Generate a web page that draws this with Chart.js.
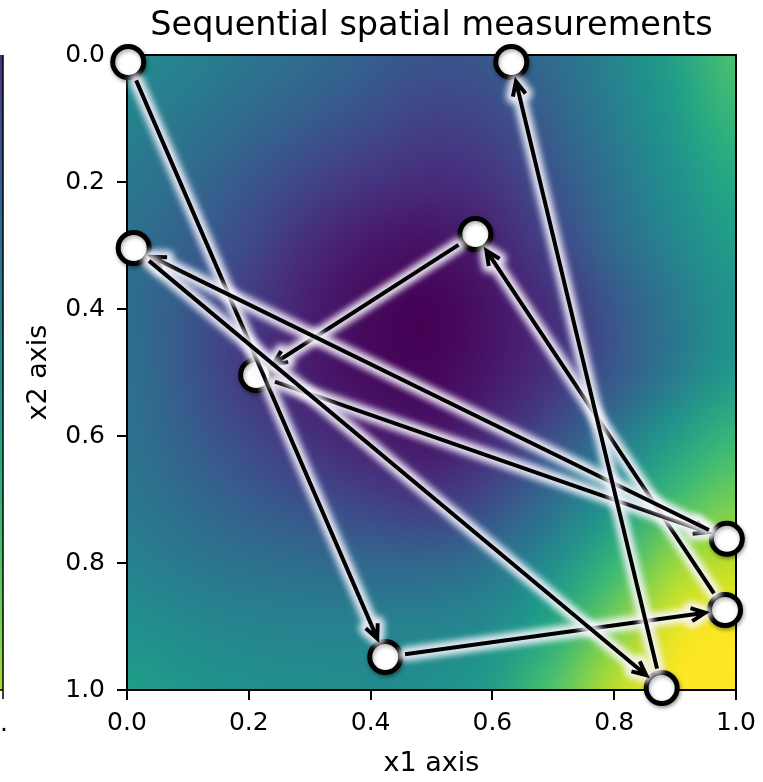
<!DOCTYPE html>
<html><head><meta charset="utf-8">
<script src="https://cdn.jsdelivr.net/npm/chart.js@4.4.1/dist/chart.umd.min.js"></script>
<style>html,body{margin:0;padding:0;background:#fff}canvas{display:block}</style>
</head><body>
<canvas id="c" width="763" height="782"></canvas>
<script>
// ---------- data ----------
const titleText = 'Sequential spatial measurements';
const xLabel = 'x1 axis';
const yLabel = 'x2 axis';
const xTickValues = [0, 0.2, 0.4, 0.6, 0.8, 1.0];
const xTickLabels = ['0.0', '0.2', '0.4', '0.6', '0.8', '1.0'];
const yTickValues = [0, 0.2, 0.4, 0.6, 0.8, 1.0];
const yTickLabels = ['0.0', '0.2', '0.4', '0.6', '0.8', '1.0'];

// heat-map grid (rows: x2, columns: x1), colour value 0..1
const x1Grid = [0, 0.1, 0.2, 0.3, 0.4, 0.5, 0.6, 0.7, 0.8, 0.9, 1.0];
const x2Grid = [0, 0.1, 0.2, 0.3, 0.4, 0.5, 0.6, 0.7, 0.8, 0.9, 1.0];
const fieldValues = [
  [0.48, 0.44, 0.39, 0.35, 0.30, 0.26, 0.28, 0.36, 0.45, 0.57, 0.72],
  [0.44, 0.39, 0.34, 0.29, 0.24, 0.19, 0.21, 0.31, 0.42, 0.54, 0.67],
  [0.40, 0.34, 0.27, 0.20, 0.15, 0.12, 0.15, 0.26, 0.38, 0.50, 0.61],
  [0.37, 0.30, 0.22, 0.12, 0.06, 0.04, 0.09, 0.20, 0.34, 0.46, 0.56],
  [0.36, 0.27, 0.17, 0.08, 0.02, 0.00, 0.05, 0.13, 0.27, 0.40, 0.52],
  [0.37, 0.27, 0.16, 0.07, 0.02, 0.01, 0.06, 0.14, 0.27, 0.41, 0.54],
  [0.38, 0.30, 0.22, 0.14, 0.08, 0.05, 0.12, 0.24, 0.39, 0.55, 0.67],
  [0.40, 0.34, 0.29, 0.24, 0.19, 0.16, 0.23, 0.36, 0.51, 0.69, 0.79],
  [0.44, 0.40, 0.37, 0.35, 0.33, 0.33, 0.38, 0.49, 0.66, 0.85, 0.91],
  [0.50, 0.47, 0.45, 0.44, 0.44, 0.45, 0.48, 0.60, 0.80, 0.97, 1.00],
  [0.56, 0.53, 0.50, 0.49, 0.48, 0.50, 0.56, 0.73, 0.90, 1.00, 1.00]
];

// measurement sequence (in visiting order)
const seqX1 = [0.002, 0.424, 0.982, 0.572, 0.212, 0.985, 0.011, 0.878, 0.631];
const seqX2 = [0.011, 0.948, 0.874, 0.282, 0.504, 0.762, 0.304, 0.997, 0.011];

// ---------- styling helpers ----------
const FONT = 'DejaVu Sans';
const VIRIDIS = ['#440154','#481a6c','#472f7d','#414487','#39568c','#31688e','#2a788e','#23888e',
                 '#1f988b','#22a884','#35b779','#54c568','#7ad151','#a5db36','#d2e21b','#fde725'];
const VIR_RGB = VIRIDIS.map(h => [parseInt(h.slice(1,3),16), parseInt(h.slice(3,5),16), parseInt(h.slice(5,7),16)]);
function viridis(t) {
  t = Math.max(0, Math.min(1, t));
  const f = t * (VIR_RGB.length - 1);
  const i = Math.min(Math.floor(f), VIR_RGB.length - 2);
  const r = f - i;
  const a = VIR_RGB[i], b = VIR_RGB[i + 1];
  return [0,1,2].map(k => Math.round(a[k] + (b[k] - a[k]) * r));
}

const heatmapPlugin = {
  id: 'heatmap',
  beforeDatasetsDraw(chart) {
    const {ctx, chartArea, scales} = chart;
    const xs = scales.x, ys = scales.y;
    const nx = x1Grid.length, ny = x2Grid.length;
    const off = document.createElement('canvas');
    off.width = nx; off.height = ny;
    const octx = off.getContext('2d');
    const img = octx.createImageData(nx, ny);
    for (let j = 0; j < ny; j++) {
      for (let i = 0; i < nx; i++) {
        const c = viridis(fieldValues[j][i]);
        const p = (j * nx + i) * 4;
        img.data[p] = c[0]; img.data[p+1] = c[1]; img.data[p+2] = c[2]; img.data[p+3] = 255;
      }
    }
    octx.putImageData(img, 0, 0);
    const hx = (x1Grid[1] - x1Grid[0]) / 2, hy = (x2Grid[1] - x2Grid[0]) / 2;
    const left = xs.getPixelForValue(x1Grid[0] - hx);
    const right = xs.getPixelForValue(x1Grid[nx - 1] + hx);
    const top = ys.getPixelForValue(x2Grid[0] - hy);
    const bottom = ys.getPixelForValue(x2Grid[ny - 1] + hy);
    ctx.save();
    ctx.beginPath();
    ctx.rect(chartArea.left, chartArea.top, chartArea.width, chartArea.height);
    ctx.clip();
    ctx.imageSmoothingEnabled = true;
    ctx.imageSmoothingQuality = 'high';
    ctx.drawImage(off, left, Math.min(top, bottom), right - left, Math.abs(bottom - top));
    ctx.restore();
    // axes frame
    ctx.save();
    ctx.strokeStyle = '#000';
    ctx.lineWidth = 2;
    ctx.strokeRect(chartArea.left, chartArea.top, chartArea.width, chartArea.height);
    ctx.restore();
  },
  beforeDatasetDraw(chart) {
    const ctx = chart.ctx;
    ctx.shadowColor = 'rgba(0,0,0,0.35)';
    ctx.shadowBlur = 4;
    ctx.shadowOffsetX = 1;
    ctx.shadowOffsetY = 2;
  },
  afterDatasetDraw(chart) {
    const ctx = chart.ctx;
    ctx.shadowColor = 'rgba(0,0,0,0)';
    ctx.shadowBlur = 0;
    ctx.shadowOffsetX = 0;
    ctx.shadowOffsetY = 0;
  }
};

function arrowPath(ctx, ax, ay, bx, by, shrinkA, shrinkB, headLen, headHalf) {
  const dx = bx - ax, dy = by - ay;
  const L = Math.hypot(dx, dy);
  const ux = dx / L, uy = dy / L;
  const sx = ax + ux * shrinkA, sy = ay + uy * shrinkA;
  const ex = bx - ux * shrinkB, ey = by - uy * shrinkB;
  ctx.beginPath();
  ctx.moveTo(sx, sy);
  ctx.lineTo(ex, ey);
  const px = -uy, py = ux;
  const bxh = ex - ux * headLen, byh = ey - uy * headLen;
  ctx.moveTo(bxh + px * headHalf, byh + py * headHalf);
  ctx.lineTo(ex, ey);
  ctx.lineTo(bxh - px * headHalf, byh - py * headHalf);
}

const arrowPlugin = {
  id: 'arrows',
  afterDatasetsDraw(chart) {
    const {ctx, scales} = chart;
    const xs = scales.x, ys = scales.y;
    for (let k = 0; k < seqX1.length - 1; k++) {
      const ax = xs.getPixelForValue(seqX1[k]), ay = ys.getPixelForValue(seqX2[k]);
      const bx = xs.getPixelForValue(seqX1[k + 1]), by = ys.getPixelForValue(seqX2[k + 1]);
      // glow
      ctx.save();
      ctx.filter = 'blur(3px)';
      ctx.strokeStyle = 'rgba(248,245,255,0.9)';
      ctx.lineWidth = 14;
      ctx.lineCap = 'round';
      ctx.lineJoin = 'round';
      arrowPath(ctx, ax, ay, bx, by, 20, 20, 14, 6.5);
      ctx.stroke();
      ctx.restore();
      // line
      ctx.save();
      ctx.strokeStyle = '#000';
      ctx.lineWidth = 4;
      ctx.lineCap = 'butt';
      ctx.lineJoin = 'miter';
      arrowPath(ctx, ax, ay, bx, by, 20, 20, 14, 6.5);
      ctx.stroke();
      ctx.restore();
    }
  }
};

const stripPlugin = {
  id: 'strip',
  afterDraw(chart) {
    const {ctx, chartArea} = chart;
    ctx.save();
    const g = ctx.createLinearGradient(0, chartArea.top, 0, chartArea.bottom);
    for (let s = 0; s <= 10; s++) {
      const c = viridis(0.15 + 0.72 * s / 10);
      g.addColorStop(s / 10, 'rgb(' + c.join(',') + ')');
    }
    ctx.fillStyle = g;
    ctx.fillRect(0, chartArea.top, 3, chartArea.height);
    ctx.strokeStyle = '#000';
    ctx.lineWidth = 1.5;
    ctx.beginPath();
    ctx.moveTo(3, chartArea.top);
    ctx.lineTo(3, chartArea.bottom);
    ctx.lineTo(0, chartArea.bottom);
    ctx.moveTo(3, chartArea.bottom);
    ctx.lineTo(3, chartArea.bottom + 9);
    ctx.stroke();
    ctx.fillStyle = '#000';
    ctx.font = '25px "' + FONT + '"';
    ctx.textBaseline = 'alphabetic';
    ctx.fillText('.', 0, 731);
    ctx.restore();
  }
};

const tickFont = {family: FONT, size: 25};

new Chart(document.getElementById('c'), {
  type: 'scatter',
  data: {
    datasets: [{
      data: seqX1.map((v, i) => ({x: v, y: seqX2[i]})),
      pointRadius: 15.5,
      pointHoverRadius: 15.5,
      pointBackgroundColor: '#ffffff',
      pointBorderColor: '#000000',
      pointBorderWidth: 5,
      pointHoverBorderWidth: 5,
      showLine: false,
      clip: false
    }]
  },
  options: {
    responsive: false,
    devicePixelRatio: 1,
    animation: false,
    events: [],
    layout: {padding: {left: 0, right: 27, top: 0, bottom: 0}},
    plugins: {
      legend: {display: false},
      tooltip: {enabled: false},
      title: {
        display: true,
        text: titleText,
        fullSize: false,
        color: '#000',
        font: {family: FONT, size: 33.5, weight: 'normal', lineHeight: 1.2},
        padding: {top: 6, bottom: 8.8}
      }
    },
    scales: {
      x: {
        type: 'linear', position: 'bottom', min: 0, max: 1,
        afterBuildTicks: s => { s.ticks = xTickValues.map(v => ({value: v})); },
        afterFit: s => { s.height = 92; s.paddingLeft = 0; s.paddingRight = 0; },
        ticks: {
          callback: (v, i) => xTickLabels[i],
          font: tickFont, color: '#000', padding: 8,
          maxRotation: 0, minRotation: 0, autoSkip: false
        },
        grid: {display: true, drawOnChartArea: false, drawTicks: true, tickLength: 10, color: '#000', lineWidth: 2},
        border: {display: false},
        title: {display: true, text: xLabel, color: '#000', font: {family: FONT, size: 27}, padding: {top: 0, bottom: 2}}
      },
      y: {
        type: 'linear', position: 'left', min: 0, max: 1, reverse: true,
        afterBuildTicks: s => { s.ticks = yTickValues.map(v => ({value: v})); },
        afterFit: s => { s.width = 127; s.paddingTop = 0; s.paddingBottom = 0; },
        ticks: {
          callback: (v, i) => yTickLabels[i],
          font: tickFont, color: '#000', padding: 12, autoSkip: false
        },
        grid: {display: true, drawOnChartArea: false, drawTicks: true, tickLength: 10, color: '#000', lineWidth: 2},
        border: {display: false},
        title: {display: true, text: yLabel, color: '#000', font: {family: FONT, size: 27}, padding: {top: 23, bottom: 0}}
      }
    }
  },
  plugins: [heatmapPlugin, arrowPlugin, stripPlugin]
});
</script>
</body></html>
